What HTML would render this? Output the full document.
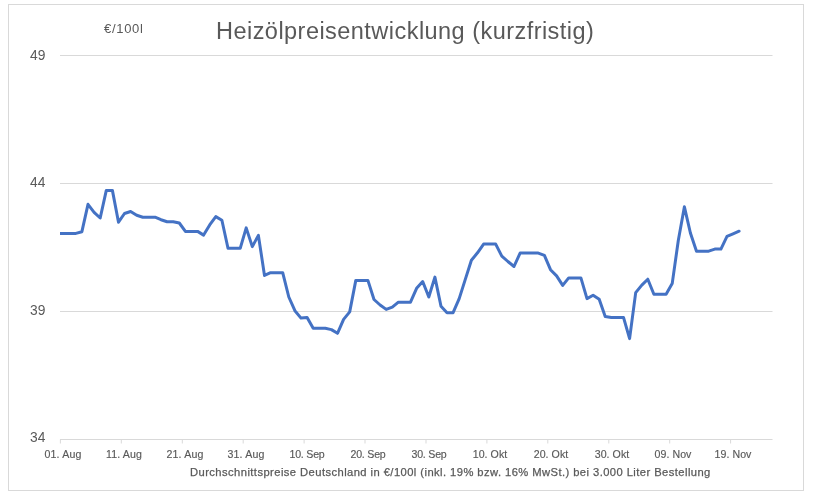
<!DOCTYPE html>
<html><head><meta charset="utf-8"><title>Heizölpreisentwicklung</title>
<style>
html,body{margin:0;padding:0;background:#fff;}
body{width:813px;height:503px;position:relative;overflow:hidden;font-family:"Liberation Sans",sans-serif;color:#595959;}
svg{position:absolute;left:0;top:0;}
.t{position:absolute;white-space:nowrap;line-height:1;will-change:transform;}
.title{left:216px;top:19.8px;font-size:23.5px;letter-spacing:0.46px;}
.unit{left:104px;top:21.8px;font-size:13px;letter-spacing:0.7px;}
.yl{font-size:13.8px;left:29.5px;}
.xl{font-size:10.6px;top:448.6px;letter-spacing:0.15px;width:60px;text-align:center;-webkit-text-stroke:0.15px #595959;}
.cap{left:189.8px;top:467.1px;font-size:11.2px;letter-spacing:0.435px;-webkit-text-stroke:0.25px #595959;}
</style></head><body>
<svg width="813" height="503" viewBox="0 0 813 503">
<rect x="8.5" y="4.5" width="795" height="486" fill="#fff" stroke="#d9d9d9" stroke-width="1"/>
<g stroke="#d9d9d9" stroke-width="1" fill="none">
<line x1="60" y1="55.5" x2="772.5" y2="55.5"/>
<line x1="60" y1="183.5" x2="772.5" y2="183.5"/>
<line x1="60" y1="311.5" x2="772.5" y2="311.5"/>
<line x1="60" y1="439.5" x2="772.5" y2="439.5"/>
<line x1="60.4" y1="439.5" x2="60.4" y2="443.5"/><line x1="121.3" y1="439.5" x2="121.3" y2="443.5"/><line x1="182.3" y1="439.5" x2="182.3" y2="443.5"/><line x1="243.2" y1="439.5" x2="243.2" y2="443.5"/><line x1="304.1" y1="439.5" x2="304.1" y2="443.5"/><line x1="365.0" y1="439.5" x2="365.0" y2="443.5"/><line x1="426.0" y1="439.5" x2="426.0" y2="443.5"/><line x1="486.9" y1="439.5" x2="486.9" y2="443.5"/><line x1="547.8" y1="439.5" x2="547.8" y2="443.5"/><line x1="608.8" y1="439.5" x2="608.8" y2="443.5"/><line x1="669.7" y1="439.5" x2="669.7" y2="443.5"/><line x1="730.6" y1="439.5" x2="730.6" y2="443.5"/>
</g>
<clipPath id="c"><rect x="60" y="50" width="712" height="390"/></clipPath>
<polyline clip-path="url(#c)" fill="none" stroke="#4472c4" stroke-width="3" stroke-linejoin="round" stroke-linecap="round" points="57.6,233.4 63.7,233.4 69.8,233.4 75.9,233.4 81.9,231.7 88.0,204.3 94.1,212.3 100.2,218.0 106.3,190.4 112.4,190.4 118.5,222.2 124.5,213.5 130.6,211.5 136.7,215.3 142.8,217.2 148.9,217.2 155.0,217.2 161.0,219.7 167.1,221.7 173.2,221.7 179.3,223.0 185.4,231.4 191.5,231.4 197.6,231.4 203.6,235.1 209.7,224.9 215.8,216.6 221.9,220.2 228.0,248.3 234.1,248.3 240.2,248.3 246.2,227.9 252.3,246.6 258.4,235.4 264.5,275.4 270.6,272.7 276.7,272.7 282.7,272.7 288.8,297.0 294.9,310.7 301.0,318.1 307.1,317.4 313.2,328.3 319.3,328.3 325.3,328.3 331.4,329.6 337.5,333.3 343.6,319.4 349.7,311.9 355.8,280.4 361.9,280.4 367.9,280.4 374.0,299.5 380.1,305.0 386.2,309.4 392.3,307.2 398.4,302.2 404.4,302.2 410.5,302.2 416.6,288.3 422.7,281.5 428.8,297.0 434.9,277.1 441.0,306.3 447.0,312.7 453.1,312.7 459.2,298.6 465.3,279.4 471.4,260.3 477.5,252.8 483.6,244.1 489.6,244.1 495.7,244.1 501.8,256.1 507.9,261.5 514.0,266.5 520.1,253.1 526.1,253.1 532.2,253.1 538.3,253.1 544.4,255.3 550.5,269.7 556.6,275.9 562.7,285.4 568.7,277.9 574.8,277.9 580.9,277.9 587.0,298.6 593.1,295.3 599.2,299.3 605.2,316.5 611.3,317.4 617.4,317.4 623.5,317.4 629.6,338.6 635.7,292.6 641.8,285.1 647.8,279.2 653.9,294.3 660.0,294.3 666.1,294.3 672.2,283.6 678.3,240.5 684.4,206.8 690.4,233.0 696.5,251.2 702.6,251.2 708.7,251.2 714.8,249.1 720.9,249.1 727.0,236.4 733.0,233.8 739.1,231.2"/>
</svg>
<div class="t title" id="title">Heizölpreisentwicklung (kurzfristig)</div>
<div class="t unit" id="unit">€/100l</div>
<div class="t yl" id="y49" style="top:48.5px">49</div>
<div class="t yl" id="y44" style="top:176.4px">44</div>
<div class="t yl" id="y39" style="top:303.6px">39</div>
<div class="t yl" id="y34" style="top:431.4px">34</div>
<div class="t xl" id="x0" style="left:33.2px;letter-spacing:0.15px">01. Aug</div><div class="t xl" id="x1" style="left:94.1px;letter-spacing:0.15px">11. Aug</div><div class="t xl" id="x2" style="left:155.1px;letter-spacing:0.15px">21. Aug</div><div class="t xl" id="x3" style="left:216.0px;letter-spacing:0.15px">31. Aug</div><div class="t xl" id="x4" style="left:276.9px;letter-spacing:-0.2px">10. Sep</div><div class="t xl" id="x5" style="left:337.8px;letter-spacing:-0.2px">20. Sep</div><div class="t xl" id="x6" style="left:398.8px;letter-spacing:-0.2px">30. Sep</div><div class="t xl" id="x7" style="left:459.7px;letter-spacing:0.05px">10. Okt</div><div class="t xl" id="x8" style="left:520.6px;letter-spacing:0.05px">20. Okt</div><div class="t xl" id="x9" style="left:581.6px;letter-spacing:0.05px">30. Okt</div><div class="t xl" id="x10" style="left:642.5px;letter-spacing:0.05px">09. Nov</div><div class="t xl" id="x11" style="left:703.4px;letter-spacing:0.05px">19. Nov</div>
<div class="t cap" id="cap">Durchschnittspreise Deutschland in €/100l (inkl. 19% bzw. 16% MwSt.) bei 3.000 Liter Bestellung</div>
</body></html>
